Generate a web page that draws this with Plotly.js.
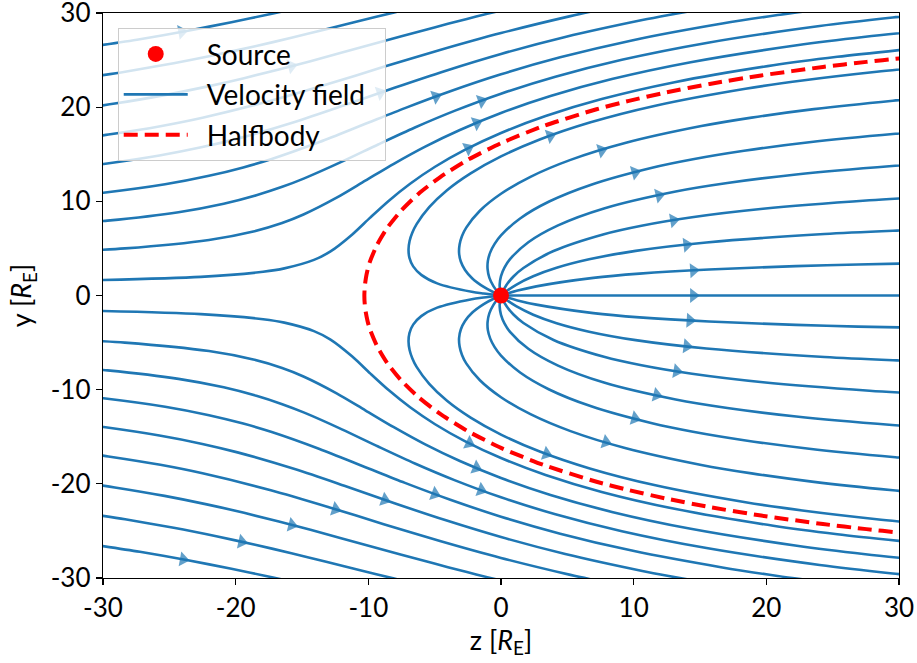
<!DOCTYPE html>
<html><head><meta charset="utf-8">
<script src="https://cdn.plot.ly/plotly-3.0.1.min.js"></script>
<style>html,body{margin:0;padding:0;background:#fff}#chart{width:917px;height:663px}</style>
</head><body><div id="chart"></div>
<script>
// ---------- data (z, y in Earth radii) ----------
const tickVals = [-30, -20, -10, 0, 10, 20, 30];
const tickText = ['-30', '-20', '-10', '0', '10', '20', '30'];

// streamlines outside the halfbody (upper half, ordered along the flow)
const outerZ = [
  [-30.93,-22.63,-17.93,-16.33,-14.10,-12.85,-11.21,-9.86,-8.45,-6.85,-4.97,-2.73,0,3.36,7.59,13.08,20.52,25.35,31.28],
  [-33.02,-28.35,-22.01,-18.67,-16.50,-14.89,-12.39,-10.23,-8.08,-5.75,-3.10,0,3.73,8.36,14.30,22.30,27.47,33.81],
  [-32.87,-29.66,-24.31,-20.90,-18.44,-16.49,-14.83,-11.95,-9.26,-6.49,-3.46,0,4.10,9.11,15.49,24.02,29.52,33.38],
  [-32.46,-29.97,-25.32,-22.01,-19.43,-17.28,-13.68,-10.45,-7.24,-3.82,0,4.46,9.86,16.68,20.85,23.69],
  [-32.05,-29.95,-25.75,-22.51,-19.86,-15.49,-11.70,-8.03,-4.21,0,4.84,10.65,12.64,14.79],
  [-31.46,-29.59,-25.68,-22.50,-17.35,-12.98,-8.84,-4.60,0,5.23,7.58],
  [-31.76,-29.11,-25.36,-22.18,-19.37,-14.36,-9.71,-5.02,-2.57,-1.04,0.53],
  [-31.73,-28.33,-24.67,-21.46,-18.53,-15.80,-13.18,-10.62,-8.05,-6.51],
  [-31.37,-27.22,-23.60,-20.32,-17.27,-15.52]
];
const outerUpperY = [
  [1.62,1.98,2.52,2.88,3.78,4.68,6.48,8.27,10.07,11.87,13.67,15.46,17.26,19.06,20.86,22.65,24.45,25.35,26.25],
  [4.64,5.00,5.90,6.80,7.70,8.60,10.39,12.19,13.99,15.79,17.58,19.38,21.18,22.98,24.77,26.57,27.47,28.37],
  [7.59,7.95,8.85,9.75,10.65,11.54,12.44,14.24,16.04,17.84,19.63,21.43,23.23,25.03,26.82,28.62,29.52,30.06],
  [10.55,10.91,11.81,12.71,13.60,14.50,16.30,18.10,19.90,21.69,23.49,25.29,27.09,28.88,29.78,30.32],
  [13.61,13.97,14.87,15.76,16.66,18.46,20.26,22.06,23.85,25.65,27.45,29.25,29.79,30.33],
  [16.73,17.09,17.98,18.88,20.68,22.48,24.28,26.07,27.87,29.67,30.39],
  [19.84,20.38,21.28,22.18,23.08,24.88,26.68,28.47,29.37,29.91,30.45],
  [23.05,23.77,24.67,25.57,26.47,27.37,28.27,29.17,30.06,30.60],
  [26.32,27.22,28.12,29.02,29.92,30.46]
];
const outerLowerY = [
  [-1.62,-1.98,-2.52,-2.88,-3.78,-4.68,-6.48,-8.27,-10.07,-11.87,-13.67,-15.46,-17.26,-19.06,-20.86,-22.65,-24.45,-25.35,-26.25],
  [-4.64,-5.00,-5.90,-6.80,-7.70,-8.60,-10.39,-12.19,-13.99,-15.79,-17.58,-19.38,-21.18,-22.98,-24.77,-26.57,-27.47,-28.37],
  [-7.59,-7.95,-8.85,-9.75,-10.65,-11.54,-12.44,-14.24,-16.04,-17.84,-19.63,-21.43,-23.23,-25.03,-26.82,-28.62,-29.52,-30.06],
  [-10.55,-10.91,-11.81,-12.71,-13.60,-14.50,-16.30,-18.10,-19.90,-21.69,-23.49,-25.29,-27.09,-28.88,-29.78,-30.32],
  [-13.61,-13.97,-14.87,-15.76,-16.66,-18.46,-20.26,-22.06,-23.85,-25.65,-27.45,-29.25,-29.79,-30.33],
  [-16.73,-17.09,-17.98,-18.88,-20.68,-22.48,-24.28,-26.07,-27.87,-29.67,-30.39],
  [-19.84,-20.38,-21.28,-22.18,-23.08,-24.88,-26.68,-28.47,-29.37,-29.91,-30.45],
  [-23.05,-23.77,-24.67,-25.57,-26.47,-27.37,-28.27,-29.17,-30.06,-30.60],
  [-26.32,-27.22,-28.12,-29.02,-29.92,-30.46]
];

// streamlines leaving the source (ordered outward from the source)
const axisZ = [0, 31];
const axisY = [0, 0];
const innerZ = [
  [0,-1.32,-2.21,-4.81,-6.01,-6.62,-6.90,-6.97,-6.89,-6.68,-6.36,-5.41,-4.07,-2.29,0,2.92,6.69,11.64,18.43,22.86,28.32,32.24],
  [0,-0.60,-1.30,-2.16,-2.71,-3.03,-3.16,-3.12,-2.94,-2.62,-1.59,0,2.22,5.24,9.35,15.10,18.89,23.58,29.54,32.41],
  [0,-0.29,-0.57,-0.88,-1.01,-0.99,-0.81,-0.48,0,1.44,3.63,6.80,11.39,14.47,18.32,23.23,29.73,32.96],
  [0,-0.05,-0.10,0,0.26,0.68,2.06,4.30,7.76,13.17,17.06,22.25,29.48,33.23],
  [0,0.06,0.41,0.94,1.69,3.96,7.76,10.59,14.40,19.75,27.78,32.22],
  [0,0.20,1.14,2.43,4.19,6.64,10.15,15.48,24.38,29.85,33.27],
  [0,1.25,2.66,6.96,10.44,15.68,22.23,26.91,33.14]
];
const innerUpperY = [
  [0,0.21,0.39,1.29,2.19,3.09,3.99,4.88,5.78,6.68,7.58,9.38,11.18,12.97,14.77,16.57,18.37,20.16,21.96,22.86,23.76,24.30],
  [0,0.37,0.91,1.81,2.71,3.61,4.51,5.41,6.31,7.21,9.00,10.80,12.60,14.40,16.19,17.99,18.89,19.79,20.69,21.05],
  [0,0.45,0.99,1.89,2.79,3.68,4.58,5.48,6.38,8.18,9.98,11.77,13.57,14.47,15.37,16.27,17.17,17.53],
  [0,0.26,1.16,2.06,2.96,3.86,5.66,7.45,9.25,11.05,11.95,12.85,13.75,14.11],
  [0,0.22,1.12,2.02,2.92,4.72,6.51,7.41,8.31,9.21,10.11,10.47],
  [0,0.24,1.14,2.04,2.94,3.84,4.74,5.63,6.53,6.89,7.07],
  [0,0.52,0.97,1.87,2.32,2.76,3.12,3.30,3.48]
];
const innerLowerY = [
  [0,-0.21,-0.39,-1.29,-2.19,-3.09,-3.99,-4.88,-5.78,-6.68,-7.58,-9.38,-11.18,-12.97,-14.77,-16.57,-18.37,-20.16,-21.96,-22.86,-23.76,-24.30],
  [0,-0.37,-0.91,-1.81,-2.71,-3.61,-4.51,-5.41,-6.31,-7.21,-9.00,-10.80,-12.60,-14.40,-16.19,-17.99,-18.89,-19.79,-20.69,-21.05],
  [0,-0.45,-0.99,-1.89,-2.79,-3.68,-4.58,-5.48,-6.38,-8.18,-9.98,-11.77,-13.57,-14.47,-15.37,-16.27,-17.17,-17.53],
  [0,-0.26,-1.16,-2.06,-2.96,-3.86,-5.66,-7.45,-9.25,-11.05,-11.95,-12.85,-13.75,-14.11],
  [0,-0.22,-1.12,-2.02,-2.92,-4.72,-6.51,-7.41,-8.31,-9.21,-10.11,-10.47],
  [0,-0.24,-1.14,-2.04,-2.94,-3.84,-4.74,-5.63,-6.53,-6.89,-7.07],
  [0,-0.52,-0.97,-1.87,-2.32,-2.76,-3.12,-3.30,-3.48]
];

// halfbody boundary
const halfbodyZ = [32.67,29.99,27.55,24.27,19.61,15.73,12.46,9.64,7.20,3.17,0,-2.54,-4.58,-6.23,-7.54,-8.57,-9.34,-9.88,-10.06,-10.19,-10.27,-10.30,-10.27,-10.19,-10.06,-9.88,-9.34,-8.57,-7.54,-6.23,-4.58,-2.54,0,3.17,7.20,9.64,12.46,15.73,19.61,24.27,27.55,29.99,32.67];
const halfbodyY = [-25.53,-25.17,-24.81,-24.27,-23.37,-22.47,-21.57,-20.67,-19.78,-17.98,-16.18,-14.38,-12.58,-10.79,-8.99,-7.19,-5.39,-3.60,-2.70,-1.80,-0.90,0,0.90,1.80,2.70,3.60,5.39,7.19,8.99,10.79,12.58,14.38,16.18,17.98,19.78,20.67,21.57,22.47,23.37,24.27,24.81,25.17,25.53];

// source
const sourceZ = [0];
const sourceY = [0];

// arrow heads along the streamlines
const arrowZ = [-24.06,-15.77,-9.12,-4.85,-1.45,-1.83,-2.46,3.7,7.6,10.1,11.9,13.0,14.0,14.5,14.5,
                -2.34,-1.83,-1.45,-4.97,-8.74,-12.5,-15.77,-19.54,-23.94,3.44,7.91,10.1,11.73,13.24,14.0,14.24];
const arrowY = [27.9,24.2,21.6,20.9,20.6,18.3,15.6,17.0,15.3,13.1,10.7,8.0,5.4,2.7,0,
                -15.52,-18.17,-20.47,-21.0,-21.6,-22.77,-24.36,-26.14,-27.9,-16.75,-15.52,-13.0,-10.56,-8.09,-5.44,-2.68];

// legend labels
const legendNames = ['Source', 'Velocity field', 'Halfbody'];

// ---------- build traces ----------
const BLUE = '#1f77b4';
const FONT = 'Lato, "DejaVu Sans", sans-serif';
const PAD = '\u2002';
const lines = [];
outerZ.forEach((z, i) => { lines.push([z, outerUpperY[i]]); lines.push([z, outerLowerY[i]]); });
lines.push([axisZ, axisY]);
innerZ.forEach((z, i) => { lines.push([z, innerUpperY[i]]); lines.push([z, innerLowerY[i]]); });

const traces = [];
lines.forEach((ln, k) => {
  traces.push({
    x: ln[0], y: ln[1], type: 'scatter', mode: 'lines',
    line: {color: BLUE, width: 2.6, shape: 'spline', smoothing: 0.8},
    name: PAD + legendNames[1] + PAD, legendgroup: 'vel', legendrank: 2,
    showlegend: k === 0, hoverinfo: 'skip'
  });
});

// arrows: place each on its nearest streamline segment, oriented along the flow
const SX = 13.27, SY = 9.42;
arrowZ.forEach((az, j) => {
  const ay = arrowY[j];
  let best = {d: Infinity};
  lines.forEach(ln => {
    const zs = ln[0], ys = ln[1];
    for (let i = 0; i < zs.length - 1; i++) {
      const ax0 = zs[i] * SX, ay0 = ys[i] * SY, bx = zs[i + 1] * SX, by = ys[i + 1] * SY;
      const px = az * SX, py = ay * SY;
      const vx = bx - ax0, vy = by - ay0;
      const L2 = vx * vx + vy * vy;
      let t = L2 > 0 ? ((px - ax0) * vx + (py - ay0) * vy) / L2 : 0;
      t = Math.max(0, Math.min(1, t));
      const qx = ax0 + t * vx, qy = ay0 + t * vy;
      const d = (qx - px) * (qx - px) + (qy - py) * (qy - py);
      if (d < best.d) best = {d, qx, qy, vx, vy, L: Math.sqrt(L2)};
    }
  });
  const ux = best.vx / best.L, uy = best.vy / best.L;
  const z1 = best.qx / SX, y1 = best.qy / SY;
  const z0 = (best.qx - 3 * ux) / SX, y0 = (best.qy - 3 * uy) / SY;
  traces.push({
    x: [z0, z1], y: [y0, y1], type: 'scatter', mode: 'markers',
    marker: {symbol: 'triangle-up', size: [0, 13], color: BLUE, angleref: 'previous', line: {width: 0}},
    showlegend: false, hoverinfo: 'skip', cliponaxis: true
  });
});

traces.push({
  x: halfbodyZ, y: halfbodyY, type: 'scatter', mode: 'lines',
  line: {color: '#ff0000', width: 4, dash: '14px,7px', shape: 'spline', smoothing: 0.6},
  name: PAD + legendNames[2], legendgroup: 'hb', legendrank: 3, hoverinfo: 'skip'
});
traces.push({
  x: sourceZ, y: sourceY, type: 'scatter', mode: 'markers',
  marker: {color: '#ff0000', size: 16, line: {width: 0}},
  name: PAD + legendNames[0], legendgroup: 'src', legendrank: 1, cliponaxis: false, hoverinfo: 'skip'
});

const axisCommon = {
  range: [-30, 30], tickvals: tickVals, ticktext: tickText,
  ticks: 'outside', ticklen: 6, tickwidth: 1.3, tickcolor: '#000',
  showline: true, linecolor: '#000', linewidth: 1.3, mirror: true,
  showgrid: false, zeroline: false, ticklabeloverflow: 'allow',
  tickfont: {family: FONT, size: 26, color: '#000'}
};

const layout = {
  width: 917, height: 663,
  margin: {l: 103, r: 18, t: 13, b: 85},
  paper_bgcolor: '#fff', plot_bgcolor: '#fff',
  showlegend: true,
  font: {family: FONT, size: 26, color: '#000'},
  xaxis: Object.assign({}, axisCommon, {
    title: {text: 'z [<i>R</i><sub>E</sub>]', font: {family: FONT, size: 27, color: '#000'}, standoff: 9}
  }),
  yaxis: Object.assign({}, axisCommon, {
    title: {text: 'y [<i>R</i><sub>E</sub>]', font: {family: FONT, size: 27, color: '#000'}, standoff: 11}
  }),
  legend: {
    x: 0.0185, y: 0.973, xanchor: 'left', yanchor: 'top',
    bgcolor: 'rgba(255,255,255,0.8)', bordercolor: '#cccccc', borderwidth: 1,
    font: {family: FONT, size: 28, color: '#000'},
    traceorder: 'grouped', tracegroupgap: 1, itemwidth: 64
  }
};

Plotly.newPlot('chart', traces, layout, {displayModeBar: false, staticPlot: true});
</script></body></html>
